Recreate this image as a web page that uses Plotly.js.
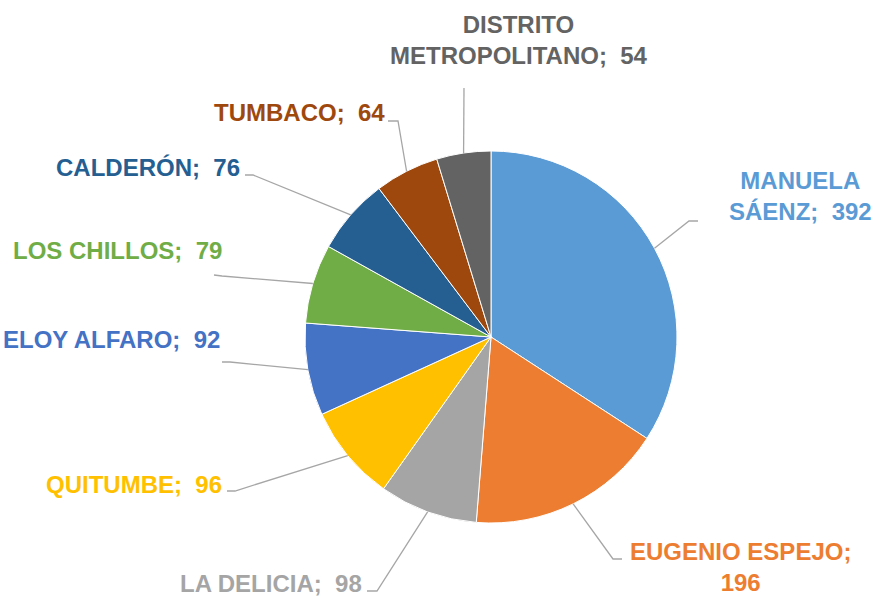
<!DOCTYPE html>
<html>
<head>
<meta charset="utf-8">
<script src="https://cdn.plot.ly/plotly-3.0.1.min.js"></script>
<style>html,body{margin:0;padding:0;background:#fff;}#chart{width:875px;height:596px;}</style>
</head>
<body>
<div id="chart"></div>
<script>
// Data
const categories = ["MANUELA SÁENZ", "EUGENIO ESPEJO", "LA DELICIA", "QUITUMBE", "ELOY ALFARO", "LOS CHILLOS", "CALDERÓN", "TUMBACO", "DISTRITO METROPOLITANO"];
const values = [392, 196, 98, 96, 92, 79, 76, 64, 54];
const labelTexts = ["MANUELA<br>SÁENZ;\u00a0\u00a0392", "EUGENIO ESPEJO;<br>196", "LA DELICIA;\u00a0\u00a098", "QUITUMBE;\u00a0\u00a096", "ELOY ALFARO;\u00a0\u00a092", "LOS CHILLOS;\u00a0\u00a079", "CALDERÓN;\u00a0\u00a076", "TUMBACO;\u00a0\u00a064", "DISTRITO<br>METROPOLITANO;\u00a0\u00a054"];
const colors = ["#5B9BD5", "#ED7D31", "#A5A5A5", "#FFC000", "#4472C4", "#70AD47", "#255E91", "#9E480E", "#636363"];

// Layout (pixels)
const W = 875, H = 596;
const CX = 491, CY = 337, R = 186;
// label anchor positions [x, y, xanchor]
const labelPos = [
  [800, 196, "center"],
  [740, 567, "center"],
  [364, 583, "right"],
  [224, 484, "right"],
  [222, 339, "right"],
  [224, 250, "right"],
  [242, 167, "right"],
  [387, 113, "right"],
  [519, 40, "center"]
];
// leader polyline (elbow, end) in pixels
const leaderPts = [
  [[689, 221], [698, 221]],
  [[613, 559], [622, 559]],
  [[377, 591], [367, 591]],
  [[235, 491], [227, 491]],
  [[230, 362], [222, 362]],
  [[222, 276], [214, 275]],
  [[253, 175], [245, 175]],
  [[398, 121], [388, 121]],
  [[464, 88], [464, 88]]
];

const px = x => x / W;
const py = y => 1 - y / H;

const total = values.reduce((a, b) => a + b, 0);
const shapes = [];
const annotations = [];
let cum = 0;
values.forEach((v, i) => {
  const mid = (cum + v / 2) / total * 2 * Math.PI;
  cum += v;
  const ex = CX + R * Math.sin(mid);
  const ey = CY - R * Math.cos(mid);
  const [e1, e2] = leaderPts[i];
  const path = `M ${px(ex)} ${py(ey)} L ${px(e1[0])} ${py(e1[1])} L ${px(e2[0])} ${py(e2[1])}`;
  shapes.push({type: "path", xref: "paper", yref: "paper", path: path,
    line: {color: "#A6A6A6", width: 1.3}});
  const [lx, ly, xa] = labelPos[i];
  annotations.push({
    xref: "paper", yref: "paper", x: px(lx), y: py(ly),
    xanchor: xa, yanchor: "middle", align: "center", showarrow: false,
    text: "<b>" + labelTexts[i] + "</b>",
    font: {family: "Liberation Sans, Arial, sans-serif", size: 24, color: colors[i]}
  });
});

const trace = {
  type: "pie",
  labels: categories,
  values: values,
  sort: false,
  direction: "clockwise",
  rotation: 0,
  textinfo: "none",
  hoverinfo: "label+value",
  marker: {colors: colors, line: {color: "#ffffff", width: 1}},
  domain: {x: [(CX - R) / W, (CX + R) / W], y: [1 - (CY + R) / H, 1 - (CY - R) / H]},
  showlegend: false
};

const layout = {
  width: W, height: H,
  margin: {l: 0, r: 0, t: 0, b: 0},
  paper_bgcolor: "#ffffff",
  plot_bgcolor: "#ffffff",
  showlegend: false,
  shapes: shapes,
  annotations: annotations
};

Plotly.newPlot("chart", [trace], layout, {displayModeBar: false, staticPlot: true});
</script>
</body>
</html>
